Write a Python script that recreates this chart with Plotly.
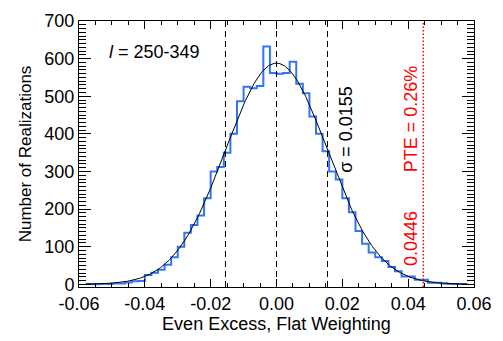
import numpy as np
import plotly.graph_objects as go

# ---- data ----
bin_start = -0.058
bin_width = 0.002
counts = [1, 0, 1, 1, 2, 2, 5, 8, 9, 25,
          31, 39, 52, 72, 100, 137, 158, 183, 229, 300,
          312, 350, 400, 487, 525, 521, 527, 632, 562, 560,
          562, 592, 533, 508, 446, 400, 354, 300, 279, 229,
          192, 142, 108, 85, 72, 62, 46, 35, 21, 21,
          12, 12, 4, 4, 2, 1, 1, 1]
fit_amp = 588.0
fit_mean = 0.0
fit_sigma = 0.0155
pte_value = 0.0446
x_tickvals = [-0.06, -0.04, -0.02, 0.0, 0.02, 0.04, 0.06]
x_ticktext = ["-0.06", "-0.04", "-0.02", "0.00", "0.02", "0.04", "0.06"]
y_tickvals = [0, 100, 200, 300, 400, 500, 600, 700]

# ---- derived ----
n = len(counts)
edges = bin_start + bin_width * np.arange(n + 1)
step_x = edges
step_y = list(counts) + [counts[-1]]

xf = np.linspace(edges[0], edges[-1], 400)
yf = fit_amp * np.exp(-(xf - fit_mean) ** 2 / (2 * fit_sigma ** 2))

FONT = "Liberation Sans, Arial, Helvetica, sans-serif"

fig = go.Figure()
fig.add_trace(go.Scatter(x=step_x, y=step_y, mode="lines", line_shape="hv",
                         line=dict(color="#3175f7", width=2), showlegend=False))
fig.add_trace(go.Scatter(x=xf, y=yf, mode="lines",
                         line=dict(color="black", width=1), showlegend=False))

for xv in [fit_mean - fit_sigma, fit_mean, fit_mean + fit_sigma]:
    fig.add_shape(type="line", xref="x", yref="paper", x0=xv, x1=xv, y0=0, y1=1,
                  line=dict(color="black", width=1, dash="6px,4px"))
fig.add_shape(type="line", xref="x", yref="paper", x0=pte_value, x1=pte_value, y0=0, y1=1,
              line=dict(color="red", width=1.5, dash="1.5px,2px"))

fig.add_annotation(x=0.0209, y=0.592, xref="x", yref="paper", xanchor="center", yanchor="middle",
                   text="σ = 0.0155", textangle=-90, showarrow=False,
                   font=dict(family=FONT, size=18, color="black"))
fig.add_annotation(x=0.0409, y=0.631, xref="x", yref="paper", xanchor="center", yanchor="middle",
                   text="PTE = 0.26%", textangle=-90, showarrow=False,
                   font=dict(family=FONT, size=18, color="red"))
fig.add_annotation(x=0.0409, y=0.181, xref="x", yref="paper", xanchor="center", yanchor="middle",
                   text="0.0446", textangle=-90, showarrow=False,
                   font=dict(family=FONT, size=18, color="red"))
fig.add_annotation(x=-0.0515, y=0.885, xref="x", yref="paper", xanchor="left", yanchor="middle",
                   text="<i>l</i> = 250-349", showarrow=False,
                   font=dict(family=FONT, size=18, color="black"))

fig.update_layout(
    width=503, height=341,
    margin=dict(l=79, r=28, t=11, b=48),
    plot_bgcolor="white", paper_bgcolor="white",
    font=dict(family=FONT, size=18, color="black"),
    xaxis=dict(range=[-0.06, 0.06], tickvals=x_tickvals, ticktext=x_ticktext,
               ticks="inside", ticklen=8, tickwidth=1, tickcolor="black",
               showline=True, linecolor="black", linewidth=1, mirror="allticks",
               showgrid=False, zeroline=False,
               minor=dict(dtick=0.005, ticks="inside", ticklen=4, tickcolor="black", showgrid=False),
               title=dict(text="Even Excess, Flat Weighting", standoff=4,
                          font=dict(family=FONT, size=18))),
    yaxis=dict(range=[-7, 700], tickvals=y_tickvals,
               ticks="inside", ticklen=12, tickwidth=1, tickcolor="black",
               showline=True, linecolor="black", linewidth=1, mirror="allticks",
               showgrid=False, zeroline=False,
               minor=dict(dtick=10, ticks="inside", ticklen=7, tickcolor="black", showgrid=False),
               title=dict(text="Number of Realizations", standoff=8,
                          font=dict(family=FONT, size=17))),
)

fig.write_html("out.html")
